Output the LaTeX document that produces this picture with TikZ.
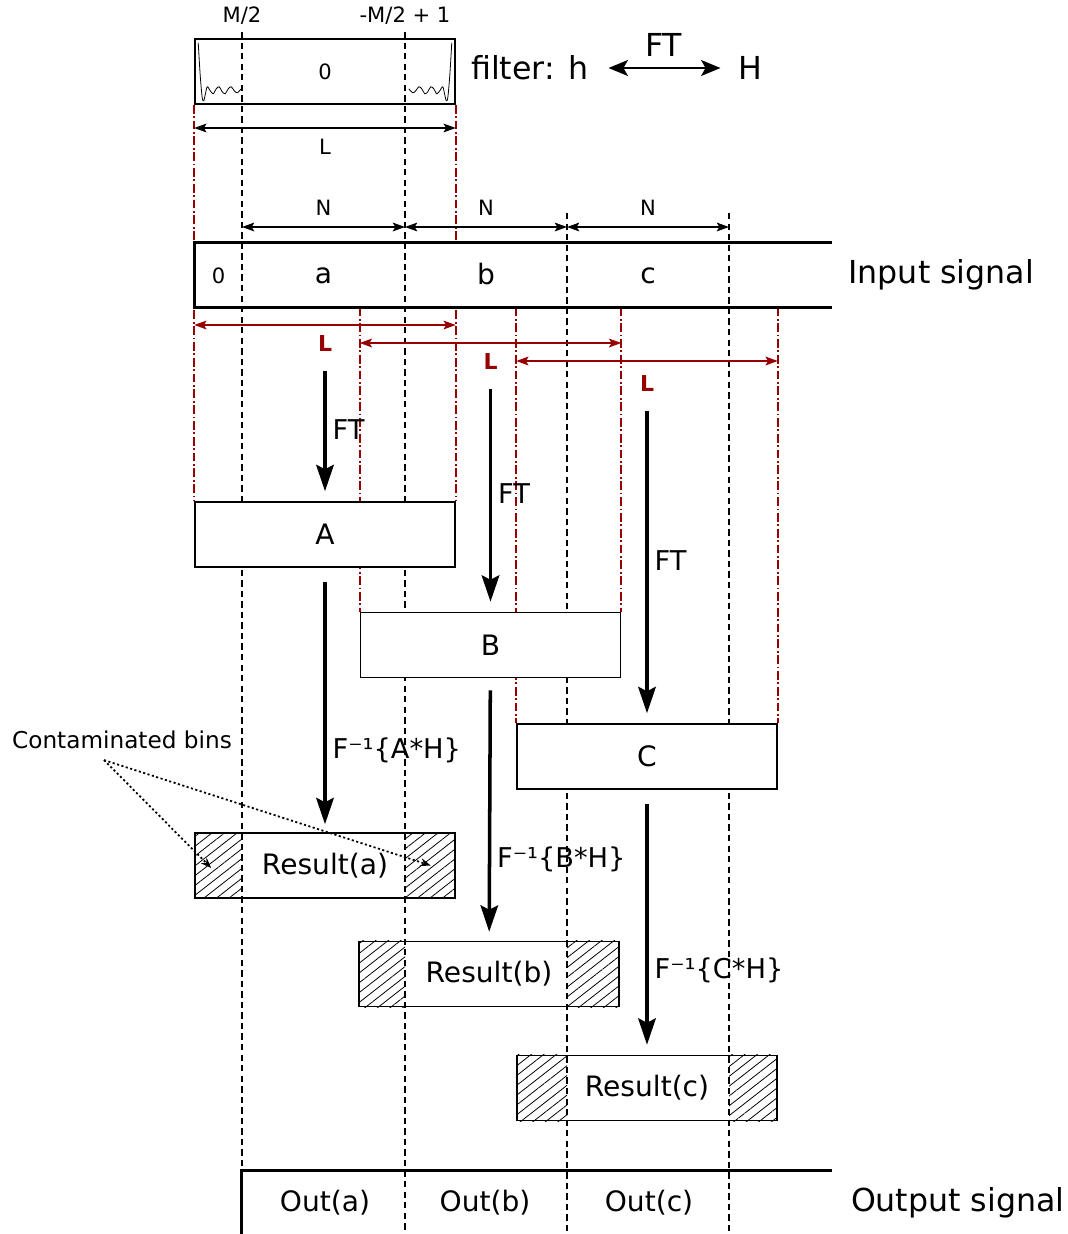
\documentclass[tikz,border=0pt]{standalone}
\usepackage{fontspec}
\setmainfont{DejaVu Sans}
\usepackage{xcolor}
\usepackage{tikz}
\usetikzlibrary{arrows.meta, positioning, backgrounds, patterns.meta}
\definecolor{guidered}{RGB}{150,0,0}

\begin{document}
\begin{tikzpicture}[
    x=0.02cm, y=-0.02cm,
    bigfont/.style={font=\fontsize{18}{21}\selectfont},
    midfont/.style={font=\fontsize{16}{19}\selectfont},
    smallfont/.style={font=\fontsize{12}{14}\selectfont},
    steplab/.style={font=\fontsize{15.5}{18}\selectfont, right},
    stage/.style={rectangle, draw, fill=white, line width=0.9pt, minimum width=5.2cm, minimum height=1.3cm, inner sep=0pt, midfont},
    result/.style={rectangle, draw, line width=0.9pt, minimum width=5.2cm, minimum height=1.3cm, inner sep=0pt, midfont},
    hatch/.style={pattern={Lines[angle=38, distance=4.4pt, line width=0.45pt]}},
    guide/.style={dash pattern=on 3.6pt off 2.4pt, line width=0.7pt},
    redguide/.style={guidered, dash pattern=on 5pt off 1.5pt on 1pt off 1.5pt, line width=1pt},
    dim/.style={{Stealth[length=7pt, width=5pt, inset=1.5pt]}-{Stealth[length=7pt, width=5pt, inset=1.5pt]}, line width=0.7pt},
    reddim/.style={dim, guidered},
    redlab/.style={guidered, font=\fontsize{12.5}{14}\selectfont\bfseries},
    arrow/.style={-{Stealth[length=15pt, width=10pt, inset=2.5pt]}, line width=2pt},
    pointer/.style={dash pattern=on 1.2pt off 1.4pt, line width=1pt, -{Stealth[length=6pt, width=4.5pt]}},
    sigline/.style={line width=1.4pt},
    tail/.pic={\draw[line width=0.45pt] plot[smooth] coordinates {(4,-62) (6,-29) (8,-7) (9.5,-4) (11,-10) (13,-18) (16,-14) (19,-11) (22,-16) (25,-18) (28,-13) (31,-11) (34,-16) (37,-18) (40,-14) (43,-12) (47,-16)};}
]
\useasboundingbox (0,0) rectangle (1068,1234);

% filter
\node[result, smallfont] (hbox) at (325,71.5) {0};
\pic at (hbox.south west) {tail};
\pic[xscale=-1] at (hbox.south east) {tail};
\node[bigfont, anchor=west] (filt) at (465,68) {filter: h};
\node[bigfont, right=2.76cm of filt] (Hf) {H};
\draw[{Stealth[length=11pt, width=9pt, inset=2.5pt]}-{Stealth[length=11pt, width=9pt, inset=2.5pt]}, line width=1.5pt, shorten <=0.28cm, shorten >=0.24cm] (filt) -- node[above=2.5pt, bigfont] {FT} (Hf);

% guides
\coordinate (g1) at (242,32);
\coordinate (g2) at (405,32);
\coordinate (g3) at (567,213);
\coordinate (g4) at (729,213);
\node[smallfont, above=1pt] (mhalf) at (g1) {M/2};
\node[smallfont, above=1pt] (mhalfone) at (g2) {-M/2 + 1};

\coordinate (rowL) at (0,128);
\coordinate (rowN) at (0,227);
\coordinate (rowA) at (0,325);
\coordinate (rowB) at (0,343);
\coordinate (rowC) at (0,361);

% signals
\node[minimum width=12.74cm, minimum height=1.28cm, inner sep=0pt] (insig) at (513.5,275) {};
\node[bigfont, right=0.2cm of insig] (inlab) {Input signal};
\draw[sigline] (insig.north east) -- (insig.north west) -- (insig.south west) -- (insig.south east);
\node[smallfont] (zero) at (218.5,276) {0};
\node[midfont] (sa) at (323.5,276) {a};
\node[midfont] (sb) at (486,274) {b};
\node[midfont] (sc) at (648,276) {c};

\node[minimum width=11.8cm, minimum height=1.28cm, inner sep=0pt] (outsig) at (537,1203) {};
\node[bigfont, right=0.25cm of outsig] (outlab) {Output signal};
\draw[sigline] (outsig.north east) -- (outsig.north west) -- (outsig.south west);
\node[midfont] (outa) at (325,1203) {Out(a)};
\node[midfont] (outb) at (485,1203) {Out(b)};
\node[midfont] (outc) at (649,1203) {Out(c)};

% blocks
\node[stage] (A) at (325,534.5) {A};
\node[stage] (B) at (490.5,645) {B};
\node[stage] (C) at (647,756.5) {C};
\node[result] (resa) at (325,865.5) {Result(a)};
\node[result] (resb) at (489,974) {Result(b)};
\node[result] (resc) at (647,1088) {Result(c)};

% lengths
\draw[dim] (hbox.west |- rowL) -- node[below=2.5pt, smallfont] (lenL) {L} (hbox.east |- rowL);
\draw[dim] (g1 |- rowN) -- node[above=3pt, smallfont] (lenNa) {N} (g2 |- rowN);
\draw[dim] (g2 |- rowN) -- node[above=3pt, smallfont] (lenNb) {N} (g3 |- rowN);
\draw[dim] (g3 |- rowN) -- node[above=3pt, smallfont] (lenNc) {N} (g4 |- rowN);
\draw[reddim] (A.west |- rowA) -- node[below=2.5pt, redlab] (LA) {L} (A.east |- rowA);
\draw[reddim] (B.west |- rowB) -- node[below=2.5pt, redlab] (LB) {L} (B.east |- rowB);
\draw[reddim] (C.west |- rowC) -- node[below=4.5pt, redlab] (LC) {L} (C.east |- rowC);

% transforms
\draw[arrow, shorten <=0.26cm, shorten >=0.2cm] (LA) -- node[steplab] {FT} (A);
\draw[arrow, shorten <=0.26cm, shorten >=0.2cm] (LB) -- node[steplab] {FT} (B);
\draw[arrow, shorten <=0.26cm, shorten >=0.2cm] (LC) -- node[steplab] {FT} (C);
\draw[arrow, shorten <=0.28cm, shorten >=0.16cm] (A) -- node[steplab, pos=0.69] {F⁻¹\{A*H\}} (resa);
\draw[arrow, shorten <=0.24cm, shorten >=0.18cm] (B) -- node[steplab, pos=0.69] {F⁻¹\{B*H\}} (resb);
\draw[arrow, shorten <=0.28cm, shorten >=0.2cm] (C) -- node[steplab, pos=0.68] {F⁻¹\{C*H\}} (resc);

% contaminated bins
\node[font=\fontsize{13.2}{16}\selectfont, inner sep=1pt] (contam) at (122,740) {Contaminated bins};
\coordinate (binL) at ([xshift=0.34cm, yshift=-0.05cm]resa.west);
\coordinate (binR) at ([xshift=-0.5cm]resa.east);
\draw[pointer] ([xshift=-0.36cm, yshift=-0.18cm]contam.south) -- (binL);
\draw[pointer] ([xshift=-0.36cm, yshift=-0.18cm]contam.south) -- (binR);

\begin{scope}[on background layer]
\draw[redguide] (hbox.south west) -- (A.north west);
\draw[redguide] (hbox.south east) -- (A.north east);
\draw[redguide] (insig.south -| B.west) -- (B.north west);
\draw[redguide] (insig.south -| B.east) -- (B.north east);
\draw[redguide] (insig.south -| C.west) -- (C.north west);
\draw[redguide] (insig.south -| C.east) -- (C.north east);
\fill[white] (insig.north west) rectangle (insig.south east);
\foreach \g in {g1,g2,g3,g4}
    \draw[guide] (\g) -- (\g |- outsig.south);
\path[hatch] (resa.north west) rectangle (resa.south -| g1);
\path[hatch] (resa.north east) rectangle (resa.south -| g2);
\path[hatch] (resb.north west) rectangle (resb.south -| g2);
\path[hatch] (resb.north east) rectangle (resb.south -| g3);
\path[hatch] (resc.north west) rectangle (resc.south -| g3);
\path[hatch] (resc.north east) rectangle (resc.south -| g4);
\end{scope}
\end{tikzpicture}
\end{document}
